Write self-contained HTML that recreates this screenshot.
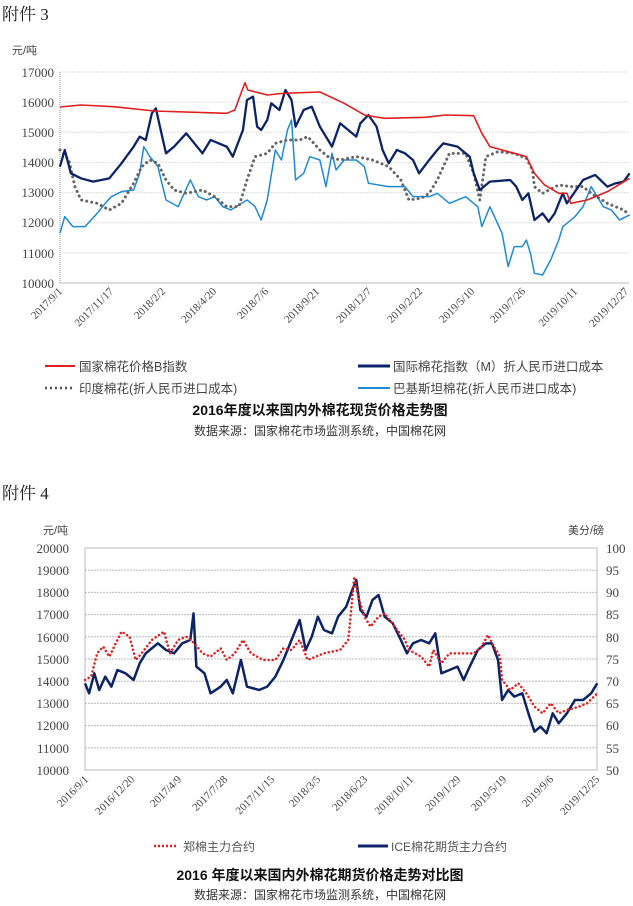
<!DOCTYPE html>
<html><head><meta charset="utf-8"><style>
body{margin:0;background:#fff;width:633px;height:906px;overflow:hidden}
svg{display:block}
text{font-family:"Liberation Serif","Noto Serif CJK SC",serif;fill:#444}
.cj{font-family:"Liberation Sans","Noto Sans CJK SC",sans-serif}
</style></head><body>
<svg width="633" height="906" viewBox="0 0 633 906">
<text x="2" y="20" font-size="17" fill="#222" style="fill:#222">附件 3</text>
<text x="12" y="54" font-size="11" class="cj">元/吨</text>
<g stroke="#ddd" stroke-dasharray="2,1" stroke-width="1">
<line x1="60" x2="629" y1="72" y2="72"/><line x1="60" x2="629" y1="102.1" y2="102.1"/><line x1="60" x2="629" y1="132.3" y2="132.3"/><line x1="60" x2="629" y1="162.4" y2="162.4"/><line x1="60" x2="629" y1="192.6" y2="192.6"/><line x1="60" x2="629" y1="222.7" y2="222.7"/><line x1="60" x2="629" y1="252.9" y2="252.9"/>
</g>
<line x1="60" x2="629" y1="283" y2="283" stroke="#bbb"/>
<line x1="60" x2="60" y1="72" y2="283" stroke="#999" stroke-dasharray="1,1"/>
<g font-size="13" text-anchor="end">
<text x="54" y="77">17000</text><text x="54" y="107">16000</text><text x="54" y="137">15000</text><text x="54" y="167">14000</text><text x="54" y="197">13000</text><text x="54" y="227">12000</text><text x="54" y="258">11000</text><text x="54" y="288">10000</text>
</g>
<g font-size="11" text-anchor="end">
<text transform="translate(63,292) rotate(-45)">2017/9/1</text>
<text transform="translate(114,292) rotate(-45)">2017/11/17</text>
<text transform="translate(166,292) rotate(-45)">2018/2/2</text>
<text transform="translate(217,292) rotate(-45)">2018/4/20</text>
<text transform="translate(269,292) rotate(-45)">2018/7/6</text>
<text transform="translate(320,292) rotate(-45)">2018/9/21</text>
<text transform="translate(372,292) rotate(-45)">2018/12/7</text>
<text transform="translate(423,292) rotate(-45)">2019/2/22</text>
<text transform="translate(475,292) rotate(-45)">2019/5/10</text>
<text transform="translate(526,292) rotate(-45)">2019/7/26</text>
<text transform="translate(578,292) rotate(-45)">2019/10/11</text>
<text transform="translate(629,292) rotate(-45)">2019/12/27</text>
</g>
<g transform="scale(0.4049,0.3333)" fill="none" stroke-linejoin="round">
<polyline vector-effect="non-scaling-stroke" stroke="#1f8ad6" stroke-width="1.5" points="148,700 160,650 180,680 210,680 240,640 260,610 275,590 300,575 330,570 345,520 355,440 370,470 390,500 410,600 440,620 470,540 490,590 510,600 530,590 550,620 570,630 610,600 630,620 645,660 660,600 680,450 695,480 710,390 720,360 730,540 750,520 765,470 790,480 805,560 820,460 830,510 850,480 880,480 900,500 910,550 960,560 1000,560 1020,590 1060,590 1080,580 1110,610 1150,590 1180,620 1190,680 1210,620 1240,700 1255,800 1270,740 1290,740 1300,720 1310,760 1320,820 1340,825 1360,780 1380,720 1390,680 1420,650 1440,620 1460,560 1490,620 1510,630 1530,660 1555,645"/>
<polyline vector-effect="non-scaling-stroke" stroke="#666" stroke-width="3" stroke-dasharray="0.1,5" stroke-linecap="round" points="148,450 170,480 185,560 200,600 240,610 270,630 300,610 330,550 350,500 370,480 390,490 410,540 430,570 460,580 500,570 530,590 560,620 590,620 610,540 630,470 660,460 680,430 710,420 740,420 760,410 790,450 810,470 840,480 880,470 920,480 960,500 990,540 1010,600 1040,595 1060,580 1080,540 1110,460 1150,460 1170,520 1185,600 1200,470 1230,455 1270,460 1300,475 1315,510 1320,560 1340,580 1380,555 1410,560 1440,560 1460,580 1500,610 1540,630 1550,640"/>
<polyline vector-effect="non-scaling-stroke" stroke="#0c2466" stroke-width="2.3" points="148,500 160,450 175,520 200,535 230,545 270,535 300,490 330,440 345,410 360,420 375,340 385,325 395,380 410,460 430,440 460,400 500,460 520,420 560,440 575,470 600,390 610,300 625,290 635,380 645,390 660,360 670,310 690,330 705,270 720,300 730,380 750,330 770,320 790,380 820,440 840,370 860,390 880,410 890,370 910,345 930,380 945,450 960,490 980,450 1000,460 1020,480 1035,520 1060,480 1080,450 1095,430 1130,440 1160,470 1170,520 1185,570 1210,545 1260,540 1275,560 1290,600 1305,580 1320,660 1340,640 1355,665 1370,640 1390,580 1400,610 1440,540 1470,525 1500,560 1520,550 1540,545 1555,520"/>
<polyline vector-effect="non-scaling-stroke" stroke="#e02020" stroke-width="1.6" points="148,321 200,315 280,320 380,333 560,340 580,330 605,248 612,270 660,285 700,280 790,276 850,310 900,345 950,355 1050,352 1100,345 1170,347 1190,400 1210,440 1300,470 1320,520 1345,555 1380,580 1400,580 1410,610 1450,600 1500,575 1555,535"/>
</g>
<g class="cj" font-size="12.5">
<line x1="45" x2="75" y1="366" y2="366" stroke="#e02020" stroke-width="2"/><text x="79" y="371" class="cj">国家棉花价格B指数</text>
<line x1="358" x2="390" y1="366" y2="366" stroke="#0c2466" stroke-width="3"/><text x="393" y="371" class="cj">国际棉花指数（M）折人民币进口成本</text>
<line x1="45" x2="75" y1="388" y2="388" stroke="#555" stroke-width="2.5" stroke-dasharray="2,3"/><text x="79" y="393" class="cj">印度棉花(折人民币进口成本)</text>
<line x1="358" x2="390" y1="388" y2="388" stroke="#1f8ad6" stroke-width="2"/><text x="393" y="393" class="cj">巴基斯坦棉花(折人民币进口成本)</text>
</g>
<text x="320" y="415" font-size="14" font-weight="bold" text-anchor="middle" class="cj" style="fill:#111">2016年度以来国内外棉花现货价格走势图</text>
<text x="320" y="435" font-size="12" text-anchor="middle" class="cj" style="fill:#333">数据来源：国家棉花市场监测系统，中国棉花网</text>

<text x="2" y="499" font-size="17" style="fill:#222">附件 4</text>
<text x="43" y="534" font-size="11" class="cj">元/吨</text>
<text x="568" y="534" font-size="11" class="cj">美分/磅</text>
<rect x="85" y="548" width="512" height="222" fill="none" stroke="#bbb"/>
<g stroke="#bbb" stroke-dasharray="2,1">
<line x1="85" x2="597" y1="570.2" y2="570.2"/><line x1="85" x2="597" y1="592.4" y2="592.4"/><line x1="85" x2="597" y1="614.6" y2="614.6"/><line x1="85" x2="597" y1="636.8" y2="636.8"/><line x1="85" x2="597" y1="659" y2="659"/><line x1="85" x2="597" y1="681.2" y2="681.2"/><line x1="85" x2="597" y1="703.4" y2="703.4"/><line x1="85" x2="597" y1="725.6" y2="725.6"/><line x1="85" x2="597" y1="747.8" y2="747.8"/>
</g>
<g font-size="13" text-anchor="end">
<text x="69" y="553">20000</text><text x="69" y="575">19000</text><text x="69" y="597">18000</text><text x="69" y="619">17000</text><text x="69" y="642">16000</text><text x="69" y="664">15000</text><text x="69" y="686">14000</text><text x="69" y="708">13000</text><text x="69" y="730">12000</text><text x="69" y="753">11000</text><text x="69" y="775">10000</text>
</g>
<g font-size="13">
<text x="606" y="553">100</text><text x="606" y="575">95</text><text x="606" y="597">90</text><text x="606" y="619">85</text><text x="606" y="642">80</text><text x="606" y="664">75</text><text x="606" y="686">70</text><text x="606" y="708">65</text><text x="606" y="730">60</text><text x="606" y="753">55</text><text x="606" y="775">50</text>
</g>
<g font-size="11" text-anchor="end">
<text transform="translate(89,780) rotate(-45)">2016/9/1</text>
<text transform="translate(135,780) rotate(-45)">2016/12/20</text>
<text transform="translate(182,780) rotate(-45)">2017/4/9</text>
<text transform="translate(228,780) rotate(-45)">2017/7/28</text>
<text transform="translate(275,780) rotate(-45)">2017/11/15</text>
<text transform="translate(321,780) rotate(-45)">2018/3/5</text>
<text transform="translate(368,780) rotate(-45)">2018/6/23</text>
<text transform="translate(414,780) rotate(-45)">2018/10/11</text>
<text transform="translate(461,780) rotate(-45)">2019/1/29</text>
<text transform="translate(507,780) rotate(-45)">2019/5/19</text>
<text transform="translate(554,780) rotate(-45)">2019/9/6</text>
<text transform="translate(600,780) rotate(-45)">2019/12/25</text>
</g>
<g transform="translate(0,480) scale(0.4049,0.3333)" fill="none" stroke-linejoin="round">
<polyline vector-effect="non-scaling-stroke" stroke="#0c2466" stroke-width="2.5" points="210,610 220,640 233,580 245,630 260,590 275,620 290,570 310,580 330,600 345,550 360,520 380,500 390,490 410,510 430,520 450,490 470,480 478,400 485,560 505,580 520,640 545,620 560,600 575,640 595,540 610,620 640,630 660,620 680,590 700,540 720,480 740,420 755,510 770,470 785,410 800,450 820,460 835,410 855,380 870,330 880,300 890,390 905,410 920,360 935,345 950,410 970,430 990,480 1005,520 1020,490 1040,480 1060,490 1075,460 1090,580 1110,570 1130,560 1145,600 1160,560 1180,510 1200,490 1215,490 1230,540 1240,660 1255,630 1270,650 1290,640 1305,700 1320,755 1335,740 1350,760 1365,700 1380,730 1400,700 1420,660 1440,660 1460,640 1475,610"/>
<polyline vector-effect="non-scaling-stroke" stroke="#e02020" stroke-width="2.5" stroke-dasharray="0.1,4" stroke-linecap="round" points="210,600 225,590 240,520 255,500 270,530 290,480 300,455 320,470 335,540 350,520 375,480 405,455 420,520 440,480 460,470 480,490 500,520 520,530 545,505 560,540 580,520 600,480 620,520 650,540 680,540 700,505 720,510 740,480 760,540 800,520 840,510 860,480 865,420 875,290 885,350 900,410 915,440 935,410 950,400 975,440 1000,480 1010,510 1040,530 1060,560 1070,510 1090,550 1110,520 1140,520 1170,520 1190,500 1205,465 1220,500 1235,530 1240,600 1260,630 1280,610 1300,640 1320,680 1340,700 1360,670 1380,700 1400,690 1430,680 1450,670 1475,640"/>
</g>
<line x1="154" x2="178" y1="846" y2="846" stroke="#e02020" stroke-width="2.5" stroke-dasharray="2,2"/>
<text x="183" y="851" font-size="12" class="cj" style="fill:#555">郑棉主力合约</text>
<line x1="358" x2="388" y1="846" y2="846" stroke="#0c2466" stroke-width="3"/>
<text x="391" y="851" font-size="12" class="cj" style="fill:#555">ICE棉花期货主力合约</text>
<text x="320" y="880" font-size="14" font-weight="bold" text-anchor="middle" class="cj" style="fill:#111">2016 年度以来国内外棉花期货价格走势对比图</text>
<text x="320" y="899" font-size="12" text-anchor="middle" class="cj" style="fill:#333">数据来源：国家棉花市场监测系统，中国棉花网</text>
</svg>
</body></html>
